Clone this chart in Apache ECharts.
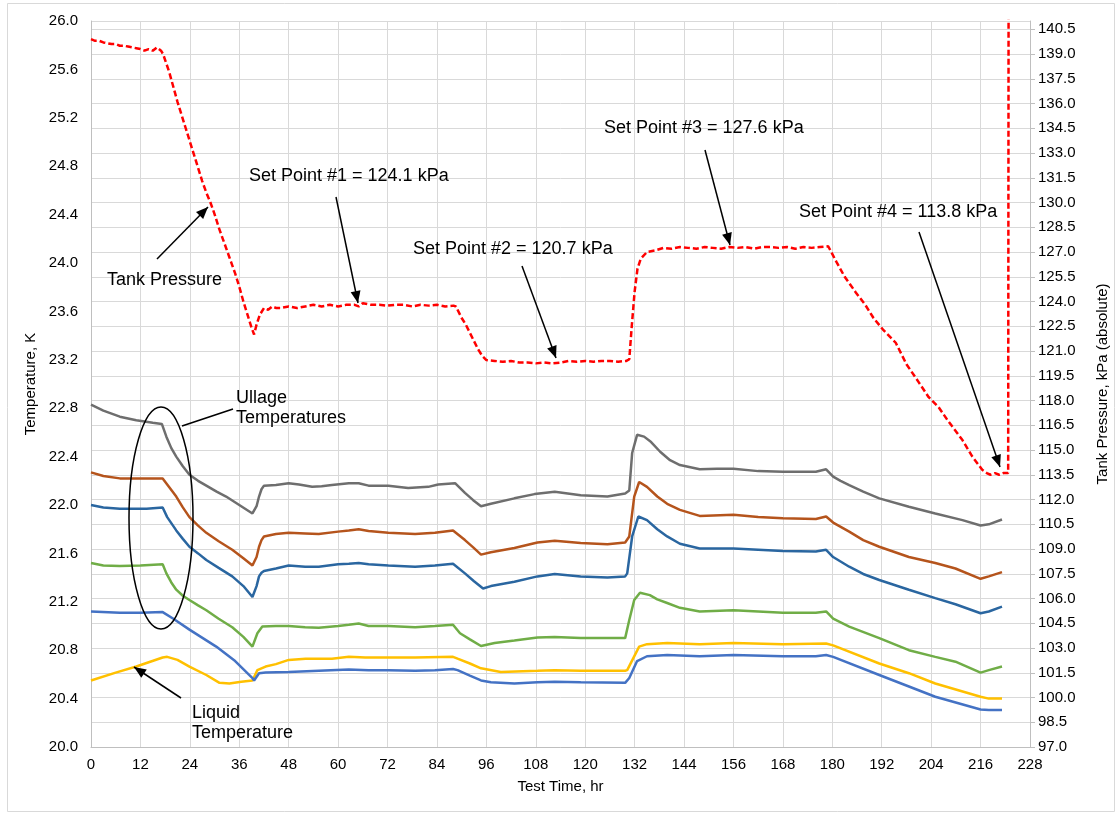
<!DOCTYPE html>
<html>
<head>
<meta charset="utf-8">
<script src="https://cdn.jsdelivr.net/npm/echarts@6/dist/echarts.min.js"></script>
<style>html,body{margin:0;padding:0;background:#fff}#c{width:1118px;height:814px}</style>
</head>
<body>
<div id="c"></div>
<script>
// ---- data: [time hr, value] ----
var tankPressure = [[0,139.9],[1,139.8],[2,139.8],[3,139.7],[4,139.65],[5,139.6],[6,139.6],[7,139.5],[8,139.5],[9,139.45],[10,139.4],[11,139.35],[12,139.3],[13,139.2],[14,139.3],[15,139.2],[16,139.4],[17,139.2],[17.5,139.0],
[19,137.9],[20,137.0],[21,136.1],[22,135.3],[23,134.5],[24,133.7],[25,132.9],[26,132.1],[27,131.3],[28,130.6],[29,130.0],[30,129.3],[31,128.5],[32,127.8],[33,127.1],[34,126.4],[35,125.7],[36,124.9],[37,124.0],[38,123.2],[39,122.4],[39.6,122.0],
[40.2,122.6],[41,123.2],[42,123.6],[43,123.5],[44,123.7],[45,123.6],[46,123.6],[48,123.7],[50,123.6],[52,123.7],[54,123.8],[56,123.7],[58,123.8],[60,123.7],[62,123.8],[64,123.8],[65,123.7],[66,123.9],[68,123.8],[70,123.8],[72,123.75],[74,123.8],[76,123.8],[78,123.7],[80,123.8],[82,123.75],[84,123.8],[86,123.7],[88,123.75],[88.6,123.7],
[90,123.0],[91,122.6],[92,122.1],[93,121.6],[94,121.1],[95,120.7],[96,120.45],[98,120.4],[100,120.35],[102,120.4],[104,120.3],[106,120.3],[108,120.25],[110,120.3],[112,120.25],[114,120.3],[116,120.4],[118,120.35],[120,120.4],[122,120.35],[124,120.4],[126,120.4],[128,120.35],[130,120.4],[130.7,120.5],
[131.3,122.5],[132,124.6],[132.7,126.0],[133.5,126.6],[135,127.0],[137,127.1],[139,127.25],[141,127.2],[143,127.3],[145,127.25],[147,127.2],[149,127.3],[151,127.25],[153,127.2],[155,127.3],[157,127.25],[159,127.3],[161,127.2],[163,127.3],[165,127.3],[167,127.25],[169,127.3],[171,127.2],[173,127.3],[175,127.25],[177,127.3],[179,127.35],
[181,126.4],[183,125.5],[185.7,124.55],[188,123.8],[190,123.0],[192.3,122.3],[195.4,121.5],[198,120.2],[201,119.1],[203.4,118.2],[205.8,117.6],[208,116.8],[211.6,115.6],[214,114.6],[216.4,113.8],[217.5,113.6],[218.4,113.5],[219.5,113.6],[220.5,113.5],[221.5,113.6],[222.7,113.6],[222.8,142]];

var ullageGray = [[0,22.83],[3,22.78],[7,22.73],[11,22.70],[15,22.68],[17.2,22.67],[18.3,22.565],[19.5,22.47],[20.7,22.40],[22.3,22.32],[23.9,22.25],[26,22.20],[28,22.16],[30.5,22.11],[32.8,22.07],[36,22.0],[39.2,21.93],[39.6,21.925],[40.2,21.99],[40.8,22.07],[41.4,22.13],[42,22.16],[44.9,22.165],[48,22.18],[50.5,22.17],[53.7,22.15],[56,22.155],[58.5,22.165],[62.6,22.18],[65,22.18],[67.4,22.16],[72.2,22.16],[77,22.14],[81.9,22.15],[84.3,22.17],[88.4,22.18],[90.8,22.10],[92.8,22.04],[94.7,21.99],[97.1,22.01],[102.8,22.055],[107.7,22.09],[112.6,22.11],[118.9,22.08],[125.4,22.07],[129.7,22.095],[130.7,22.12],[131.4,22.43],[132.6,22.58],[134.3,22.565],[136,22.52],[138.2,22.44],[140.6,22.37],[143,22.33],[147.8,22.295],[152,22.30],[156,22.30],[162,22.28],[168,22.275],[176,22.275],[178.5,22.295],[180.2,22.235],[182,22.20],[184.1,22.165],[187.5,22.11],[191.4,22.055],[198.6,21.985],[205,21.93],[211.6,21.875],[216,21.83],[218,21.84],[221.2,21.88]];

var ullageBrown = [[0,22.27],[3,22.24],[7,22.22],[12,22.22],[17.4,22.22],[18.5,22.17],[20.7,22.07],[22.3,21.98],[23.9,21.90],[26,21.83],[28,21.77],[31,21.70],[34.3,21.63],[37,21.56],[39.2,21.50],[39.6,21.50],[40.2,21.57],[40.8,21.655],[41.4,21.71],[42,21.74],[44.9,21.76],[48,21.77],[52,21.765],[55.3,21.76],[60,21.78],[62.6,21.79],[65,21.80],[67.4,21.785],[72.2,21.77],[78.7,21.76],[83.5,21.77],[87.9,21.79],[90.8,21.71],[92.8,21.65],[94.7,21.59],[97.1,21.61],[102.8,21.645],[108.4,21.69],[112.6,21.705],[118.9,21.685],[125.4,21.675],[129.7,21.69],[130.7,21.74],[131.9,22.07],[133.1,22.19],[135,22.15],[137.5,22.07],[139.9,22.01],[143,21.96],[147.8,21.91],[156,21.92],[162,21.90],[168,21.89],[176,21.885],[178.5,21.905],[180.2,21.855],[184.1,21.78],[187.5,21.71],[191.4,21.655],[198.6,21.57],[205,21.52],[209.9,21.475],[216,21.39],[218,21.41],[221.2,21.445]];

var ullageDarkBlue = [[0,22.0],[3,21.98],[7,21.97],[10,21.97],[13.5,21.97],[17.4,21.98],[18.5,21.90],[20.7,21.79],[22.3,21.72],[23.9,21.655],[26,21.60],[28,21.545],[31,21.48],[34.3,21.41],[37,21.33],[39.2,21.24],[39.6,21.235],[40.2,21.33],[40.8,21.41],[41.4,21.44],[42,21.455],[44.9,21.475],[48,21.50],[52,21.49],[55.3,21.49],[60,21.51],[62.6,21.515],[65,21.52],[67.4,21.51],[72.2,21.50],[78.7,21.49],[83.5,21.50],[87.9,21.515],[90.8,21.435],[93,21.37],[95.2,21.31],[97.1,21.33],[102.8,21.365],[108.4,21.41],[112.6,21.43],[118.9,21.41],[125.4,21.40],[129.7,21.41],[130.2,21.435],[131.4,21.74],[132.9,21.905],[135,21.875],[137.5,21.80],[139.9,21.74],[143,21.68],[147.8,21.64],[156,21.64],[162,21.63],[168,21.62],[176,21.615],[178.5,21.63],[180.2,21.57],[184.1,21.49],[187.5,21.43],[191.4,21.38],[198.6,21.30],[205,21.23],[209.9,21.18],[216,21.105],[218,21.12],[221.2,21.16]];

var ullageGreen = [[0,21.52],[3,21.50],[7,21.495],[12,21.50],[17.4,21.51],[18.3,21.435],[19.5,21.36],[20.7,21.30],[22.3,21.25],[23.9,21.215],[26,21.17],[28,21.13],[31,21.06],[34.3,20.99],[37,20.91],[39.2,20.83],[39.6,20.83],[40.4,20.94],[41.6,20.995],[44.9,21.0],[48,21.0],[52,20.99],[55.3,20.985],[60,21.00],[62.6,21.01],[65,21.02],[67.4,21.0],[72.2,21.0],[78.7,20.99],[83.5,21.0],[87.9,21.01],[89.6,20.94],[92,20.89],[94.7,20.835],[98,20.86],[102.8,20.88],[108.4,20.905],[112.6,20.91],[118.9,20.90],[129.7,20.90],[130.7,21.05],[131.9,21.215],[133.3,21.275],[135.7,21.255],[137.5,21.22],[139.9,21.19],[143,21.15],[147.8,21.12],[156,21.13],[162,21.12],[168,21.11],[176,21.11],[178.5,21.12],[180.2,21.06],[184.1,20.995],[191.4,20.90],[198.6,20.80],[205,20.745],[209.9,20.705],[216,20.615],[218,20.635],[221.2,20.665]];

var ullageLightBlue = [[0,21.12],[7,21.11],[12,21.11],[17.4,21.115],[20,21.06],[23.9,20.97],[30.4,20.83],[35,20.71],[39.2,20.57],[39.6,20.55],[40.8,20.61],[42.4,20.615],[48,20.62],[55.3,20.63],[62.6,20.64],[67.4,20.635],[72.2,20.635],[78.7,20.63],[83.5,20.635],[87.9,20.645],[89,20.635],[92,20.59],[94.7,20.55],[97.1,20.535],[102.8,20.525],[108.4,20.535],[112.6,20.54],[118.9,20.535],[129.7,20.53],[130.7,20.57],[132.6,20.71],[135,20.75],[139.9,20.76],[147.8,20.75],[156,20.76],[168,20.75],[176,20.75],[178.5,20.76],[180.2,20.745],[191.4,20.595],[198.6,20.50],[205,20.415],[216,20.31],[218,20.305],[221.2,20.305]];

var liquidYellow = [[0,20.55],[6,20.615],[11,20.665],[17.4,20.74],[18.5,20.745],[21,20.72],[23.9,20.665],[28,20.595],[31.2,20.53],[33.6,20.525],[36.5,20.54],[39.2,20.55],[39.6,20.56],[40.4,20.635],[42.4,20.665],[44.9,20.685],[48,20.72],[52.1,20.73],[58.5,20.73],[62.6,20.745],[66.6,20.74],[78.7,20.74],[87.9,20.745],[89,20.73],[92,20.69],[94.7,20.65],[99.5,20.62],[108.4,20.63],[112.6,20.635],[118.9,20.63],[129.7,20.63],[130.2,20.635],[133.1,20.83],[135,20.85],[139.9,20.86],[147.8,20.85],[156,20.86],[168,20.85],[178.5,20.855],[180.2,20.84],[191.4,20.69],[198.6,20.61],[205,20.525],[216,20.415],[218,20.40],[221.2,20.40]];

var FONT = 'Liberation Sans, Arial, sans-serif';
var GRID = '#D9D9D9';

function arrow(x1, y1, x2, y2, head) {
  var els = [{type:'line', shape:{x1:x1,y1:y1,x2:x2,y2:y2}, style:{stroke:'#000', lineWidth:1.5}, z:100}];
  if (head) {
    var a = Math.atan2(y2-y1, x2-x1), L = 12, W = 5;
    var bx = x2 - L*Math.cos(a), by = y2 - L*Math.sin(a);
    var nx = -Math.sin(a)*W, ny = Math.cos(a)*W;
    els.push({type:'polygon', shape:{points:[[x2,y2],[bx+nx,by+ny],[bx-nx,by-ny]]}, style:{fill:'#000'}, z:100});
  }
  return els;
}
function txt(x, y, s) {
  return {type:'text', x:x, y:y, z:100, style:{text:s, font:'18px ' + FONT, fill:'#000', textVerticalAlign:'middle', lineHeight:20}};
}

var graphics = [
  {type:'rect', shape:{x:7.5, y:3.5, width:1107, height:808}, style:{fill:'none', stroke:'#D9D9D9', lineWidth:1}, z:0},
  txt(107, 280, 'Tank Pressure'),
  txt(249, 176, 'Set Point #1 = 124.1 kPa'),
  txt(413, 249, 'Set Point #2 = 120.7 kPa'),
  txt(604, 128, 'Set Point #3 = 127.6 kPa'),
  txt(799, 212, 'Set Point #4 = 113.8 kPa'),
  txt(236, 398, 'Ullage'),
  txt(236, 418, 'Temperatures'),
  txt(192, 713, 'Liquid'),
  txt(192, 733, 'Temperature'),
  {type:'ellipse', shape:{cx:161, cy:518, rx:32, ry:111}, style:{fill:'none', stroke:'#000', lineWidth:1.5}, z:100}
].concat(arrow(157,259,208,207,true))
 .concat(arrow(336,197,358,303,true))
 .concat(arrow(522,266,556,358,true))
 .concat(arrow(705,150,730,245,true))
 .concat(arrow(919,232,1000,467,true))
 .concat(arrow(182,426,233,409,false))
 .concat(arrow(181,698,134,667,true));

function tempSeries(data, color) {
  return {type:'line', data:data, yAxisIndex:0, showSymbol:false, symbol:'none', lineStyle:{color:color, width:2.5}, itemStyle:{color:color}, z:3};
}

var chart = echarts.init(document.getElementById('c'), null, {renderer:'canvas'});
chart.setOption({
  animation:false,
  backgroundColor:'#fff',
  textStyle:{fontFamily:FONT},
  grid:{left:91, right:84, top:21, bottom:67, containLabel:false},
  xAxis:{type:'value', min:0, max:228, interval:12,
    name:'Test Time, hr', nameLocation:'middle', nameGap:32, nameTextStyle:{fontSize:15, color:'#000', fontFamily:FONT},
    axisLine:{show:true, lineStyle:{color:'#BFBFBF'}}, axisTick:{show:false},
    axisLabel:{fontSize:15, color:'#000', margin:10, fontFamily:FONT},
    splitLine:{show:true, lineStyle:{color:GRID, width:1}}},
  yAxis:[
    {type:'value', min:20, max:26, interval:0.4, position:'left',
     name:'Temperature, K', nameLocation:'middle', nameGap:53, nameRotate:90, nameTextStyle:{fontSize:15, color:'#000', fontFamily:FONT},
     axisLine:{show:true, lineStyle:{color:'#BFBFBF'}}, axisTick:{show:false},
     axisLabel:{fontSize:15, color:'#000', margin:13, fontFamily:FONT, formatter:function(v){return v.toFixed(1);}},
     splitLine:{show:false}},
    {type:'value', min:97, max:141, interval:1.5, position:'right',
     name:'Tank Pressure, kPa (absolute)', nameLocation:'middle', nameGap:65, nameRotate:90, nameTextStyle:{fontSize:15, color:'#000', fontFamily:FONT},
     axisLine:{show:true, lineStyle:{color:'#BFBFBF'}}, axisTick:{show:true, length:5, lineStyle:{color:'#BFBFBF'}},
     axisLabel:{fontSize:15, color:'#000', margin:8, fontFamily:FONT, showMaxLabel:false, formatter:function(v){return v.toFixed(1);}},
     splitLine:{show:true, lineStyle:{color:GRID, width:1}}}
  ],
  series:[
    tempSeries(ullageGray, '#6E6E6E'),
    tempSeries(ullageBrown, '#B5541C'),
    tempSeries(ullageDarkBlue, '#2A66A0'),
    tempSeries(ullageGreen, '#70AD47'),
    tempSeries(liquidYellow, '#FFC000'),
    tempSeries(ullageLightBlue, '#4472C4'),
    {type:'line', data:tankPressure, yAxisIndex:1, showSymbol:false, symbol:'none', clip:true,
     lineStyle:{color:'#FF0000', width:2.5, type:[6,3]}, itemStyle:{color:'#FF0000'}, z:4}
  ],
  graphic:graphics
});
</script>
</body>
</html>
